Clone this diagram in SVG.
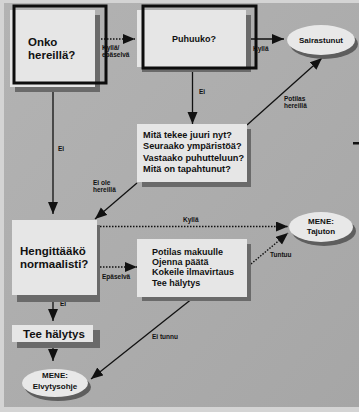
<svg xmlns="http://www.w3.org/2000/svg" width="359" height="412" viewBox="0 0 359 412">
<defs>
<linearGradient id="bg" x1="0" y1="0" x2="1" y2="1">
<stop offset="0" stop-color="#b3b3b3"/>
<stop offset="1" stop-color="#a6a6a6"/>
</linearGradient>
<marker id="ah" markerUnits="userSpaceOnUse" markerWidth="14" markerHeight="12" refX="12" refY="5" orient="auto">
<path d="M0,0 L12,5 L0,10 Z" fill="#111"/>
</marker>
</defs>
<style>
.box{fill:#e6e6e6}
.sh{fill:#6a6a6a}
.frame{fill:none;stroke:#0d0d0d;stroke-width:3}
.ell{fill:#e8e8e8}
.t{font-family:"Liberation Sans",Arial,sans-serif;font-weight:bold;fill:#111}
.big{font-size:11.5px}
.mid{font-size:9px}
.mit{font-size:9.2px}
.sm{font-size:6.5px}
.el{font-size:8px}
.ln{fill:none;stroke:#111;stroke-width:1.3}
.dot{fill:none;stroke:#111;stroke-width:1.4;stroke-dasharray:1.5 1.5}
</style>
<rect width="359" height="412" fill="#d4d4d4"/>
<rect x="4" y="3" width="355" height="404" fill="url(#bg)"/>
<rect x="353" y="142" width="6" height="2.5" fill="#111"/>

<g id="connectors">
<line class="dot" x1="95" y1="39" x2="135" y2="39" marker-end="url(#ah)"/>
<text class="t sm" x="102" y="50">Kyllä/</text>
<text class="t sm" x="102" y="57">epäselvä</text>
<line class="ln" x1="247" y1="39" x2="284" y2="39" marker-end="url(#ah)"/>
<text class="t sm" x="253" y="51">Kyllä</text>
<line class="ln" x1="192.5" y1="71" x2="192.5" y2="124" marker-end="url(#ah)"/>
<text class="t sm" x="199" y="94">Ei</text>
<line class="ln" x1="247" y1="125" x2="322" y2="58" marker-end="url(#ah)"/>
<text class="t sm" x="284" y="101">Potilas</text>
<text class="t sm" x="284" y="108">hereillä</text>
<line class="ln" x1="53" y1="92" x2="53" y2="214" marker-end="url(#ah)"/>
<text class="t sm" x="58" y="151">Ei</text>
<line class="ln" x1="137" y1="183" x2="95" y2="219" marker-end="url(#ah)"/>
<text class="t sm" x="93" y="185">Ei ole</text>
<text class="t sm" x="93" y="192">hereillä</text>
<line class="dot" x1="100" y1="226.5" x2="288" y2="226.5" marker-end="url(#ah)"/>
<text class="t sm" x="183" y="222">Kyllä</text>
<line class="dot" x1="100" y1="267" x2="137" y2="267" marker-end="url(#ah)"/>
<text class="t sm" x="102" y="279">Epäselvä</text>
<line class="dot" x1="251" y1="264" x2="288" y2="233" marker-end="url(#ah)"/>
<text class="t sm" x="270" y="257">Tuntuu</text>
<line class="ln" x1="193" y1="298" x2="91" y2="379" marker-end="url(#ah)"/>
<text class="t sm" x="152" y="339">Ei tunnu</text>
<line class="ln" x1="53" y1="301" x2="53" y2="321" marker-end="url(#ah)"/>
<text class="t sm" x="60" y="306">Ei</text>
<line class="ln" x1="53" y1="348" x2="53" y2="361" marker-end="url(#ah)"/>
</g>

<g id="onko">
<rect class="sh" x="15" y="15" width="85" height="77"/>
<rect class="box" x="10" y="10" width="85" height="77"/>
<rect class="frame" x="14" y="6" width="92" height="77"/>
<text class="t big" x="28" y="45.5">Onko</text>
<text class="t big" x="28" y="58.5">hereillä?</text>
</g>

<g id="puhuuko">
<rect class="sh" x="142" y="15" width="109" height="57"/>
<rect class="box" x="137" y="10" width="109" height="57"/>
<rect class="frame" x="143" y="6" width="113" height="62"/>
<text class="t mid" x="172" y="42">Puhuuko?</text>
</g>

<g id="sairastunut">
<ellipse cx="324" cy="44" rx="34" ry="15" fill="#5e5e5e"/>
<ellipse class="ell" cx="321" cy="40" rx="34" ry="15"/>
<text class="t el" x="321" y="43" text-anchor="middle">Sairastunut</text>
</g>

<g id="mita">
<rect class="sh" x="142" y="129" width="109" height="58"/>
<rect class="box" x="137" y="124" width="110" height="58"/>
<text class="t mit" x="143" y="137.5">Mitä tekee juuri nyt?</text>
<text class="t mit" x="143" y="149">Seuraako ympäristöä?</text>
<text class="t mit" x="143" y="160.5">Vastaako puhutteluun?</text>
<text class="t mit" x="143" y="172">Mitä on tapahtunut?</text>
</g>

<g id="hengittaako">
<rect class="sh" x="17" y="225" width="83" height="77"/>
<rect class="box" x="12" y="220" width="85" height="75"/>
<text class="t big" x="20" y="254.5">Hengittääkö</text>
<text class="t big" x="20" y="267.5">normaalisti?</text>
</g>

<g id="tajuton">
<ellipse cx="324" cy="231" rx="32" ry="15" fill="#5e5e5e"/>
<ellipse class="ell" cx="321" cy="227" rx="32" ry="15"/>
<text class="t el" x="321" y="224" text-anchor="middle">MENE:</text>
<text class="t el" x="321" y="234" text-anchor="middle">Tajuton</text>
</g>

<g id="potilas">
<rect class="sh" x="142" y="244" width="109" height="57"/>
<rect class="box" x="137" y="239" width="110" height="58"/>
<text class="t mid" x="152" y="255">Potilas makuulle</text>
<text class="t mid" x="152" y="265">Ojenna päätä</text>
<text class="t mid" x="152" y="275">Kokeile ilmavirtaus</text>
<text class="t mid" x="152" y="285.5">Tee hälytys</text>
</g>

<g id="teehalytys">
<rect class="sh" x="17" y="330" width="83" height="18"/>
<rect class="box" x="12" y="325" width="81" height="17"/>
<text class="t" style="font-size:11.5px" x="23" y="338">Tee hälytys</text>
</g>

<g id="elvytysohje">
<ellipse cx="58" cy="387" rx="33" ry="14" fill="#5e5e5e"/>
<ellipse class="ell" cx="55" cy="383" rx="33" ry="14"/>
<text class="t el" x="55" y="378" text-anchor="middle">MENE:</text>
<text class="t el" x="55" y="389" text-anchor="middle">Elvytysohje</text>
</g>
</svg>
